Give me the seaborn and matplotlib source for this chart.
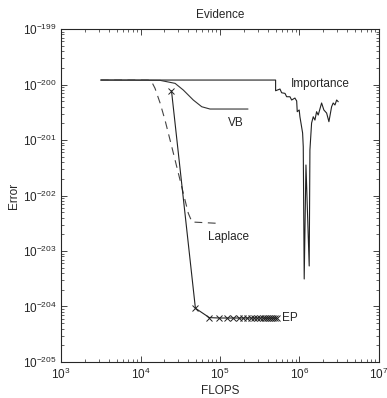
import matplotlib
matplotlib.use('Agg')
import matplotlib.pyplot as plt
import seaborn as sns
import pandas as pd

# FLOPS / error values
imp_flops = [3.16e3, 5.01e5, 5.01e5, 5.69e5, 5.97e5, 6.58e5, 6.90e5, 7.60e5, 7.98e5, 8.77e5,
             9.23e5, 9.38e5, 9.93e5, 1.014e6, 1.096e6, 1.117e6, 1.148e6, 1.208e6, 1.327e6,
             1.355e6, 1.422e6, 1.492e6, 1.567e6, 1.644e6, 1.723e6, 1.901e6, 2.03e6, 2.20e6,
             2.35e6, 2.54e6, 2.66e6, 2.80e6, 2.94e6, 3.08e6]
imp_error = [1.205e-200, 1.205e-200, 7.73e-201, 8.30e-201, 7.11e-201, 6.93e-201, 6.03e-201,
             6.03e-201, 5.26e-201, 5.71e-201, 5.05e-201, 3.24e-201, 3.48e-201, 2.63e-201,
             1.34e-201, 7.57e-202, 3.13e-204, 3.55e-202, 5.37e-204, 6.61e-202, 2.02e-201,
             2.63e-201, 2.29e-201, 3.24e-201, 2.82e-201, 4.65e-201, 3.48e-201, 3.06e-201,
             2.14e-201, 3.98e-201, 4.65e-201, 4.28e-201, 5.26e-201, 4.90e-201]

vb_flops = [3.16e3, 1.76e4, 2.72e4, 3.45e4, 4.61e4, 5.89e4, 7.48e4, 2.25e5]
vb_error = [1.205e-200, 1.19e-200, 1.05e-200, 7.96e-201, 5.26e-201, 3.98e-201, 3.62e-201, 3.62e-201]

lap_flops = [3.16e3, 1.26e4, 1.38e4, 1.52e4, 1.76e4, 2.03e4, 2.47e4, 3.99e4, 4.44e4, 9.08e4]
lap_error = [1.205e-200, 1.205e-200, 1.12e-200, 8.55e-201, 4.65e-201, 2.29e-201, 7.57e-202,
             4.78e-203, 3.33e-203, 3.16e-203]

ep_flops = [24500, 49000, 73500, 98000, 122500, 147000, 171500, 196000, 220500, 245000,
            269500, 294000, 318500, 343000, 367500, 392000, 416500, 441000, 465500, 490000, 514500]
ep_error = [7.73e-201, 9.3e-205, 6.3e-205, 6.2e-205, 6.2e-205, 6.2e-205, 6.2e-205, 6.2e-205,
            6.2e-205, 6.2e-205, 6.2e-205, 6.2e-205, 6.2e-205, 6.2e-205, 6.2e-205, 6.2e-205,
            6.2e-205, 6.2e-205, 6.2e-205, 6.2e-205, 6.2e-205]

sns.set_style('ticks')
plt.rcParams['font.family'] = ['Liberation Sans', 'DejaVu Sans']
plt.rcParams['mathtext.fontset'] = 'custom'
plt.rcParams['mathtext.rm'] = 'Liberation Sans'
plt.rcParams['mathtext.it'] = 'Liberation Sans'

fig = plt.figure(figsize=(3.87, 3.98), dpi=100)
ax = fig.add_axes([0.158, 0.0905, 0.821, 0.8365])

imp = pd.DataFrame({'x': imp_flops, 'y': imp_error})
vb = pd.DataFrame({'x': vb_flops, 'y': vb_error})
lap = pd.DataFrame({'x': lap_flops, 'y': lap_error})
ep = pd.DataFrame({'x': ep_flops, 'y': ep_error})

sns.lineplot(data=imp, x='x', y='y', sort=False, estimator=None, color='#222222', lw=0.8, ax=ax)
sns.lineplot(data=vb, x='x', y='y', sort=False, estimator=None, color='#333333', lw=0.8, ax=ax)
sns.lineplot(data=lap, x='x', y='y', sort=False, estimator=None, color='#444444', lw=0.8,
             linestyle=(0, (7, 5)), ax=ax)
sns.lineplot(data=ep, x='x', y='y', sort=False, estimator=None, color='#222222', lw=0.8,
             marker='x', markersize=4, markeredgewidth=0.7, markeredgecolor='#222222', ax=ax)

ax.set_xscale('log')
ax.set_yscale('log')
ax.set_xlim(1e3, 1e7)
ax.set_ylim(1e-205, 1e-199)

ax.text(7.8e5, 1.02e-200, 'Importance', fontsize=8.5, ha='left', va='center')
ax.text(1.26e5, 2.05e-201, 'VB', fontsize=8.5, ha='left', va='center')
ax.text(7.07e4, 1.77e-203, 'Laplace', fontsize=8.5, ha='left', va='center')
ax.text(5.97e5, 6.12e-205, 'EP', fontsize=8.5, ha='left', va='center')

ax.set_title('Evidence', fontsize=8.5, pad=8)
ax.set_xlabel('FLOPS', fontsize=8.5, labelpad=2)
ax.set_ylabel('Error', fontsize=8.5, labelpad=2)
ax.tick_params(which='both', direction='in', top=True, right=True, labelsize=8.5)
ax.tick_params(which='major', length=4, width=0.6)
ax.tick_params(which='minor', length=2, width=0.5)
for s in ax.spines.values():
    s.set_linewidth(0.8)

fig.savefig('out.png', dpi=100)
